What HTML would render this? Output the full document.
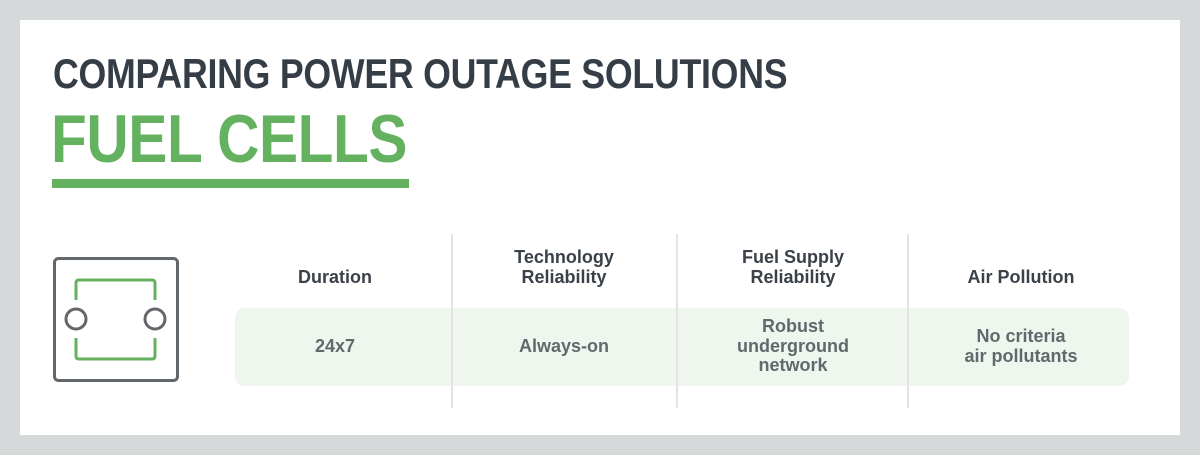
<!DOCTYPE html>
<html><head><style>
body{margin:0;width:1200px;height:455px;background:#d5d9da;position:relative;overflow:hidden;font-family:"Liberation Sans",sans-serif}
.panel{position:absolute;left:20px;top:20px;width:1160px;height:415px;background:#fff}
.a{position:absolute}
.t1{left:53px;top:50px;font-size:42px;font-weight:bold;color:#353e47;letter-spacing:-0.3px;white-space:nowrap;transform:scaleX(0.85);transform-origin:left}
.t2{left:51px;top:100px;font-size:68px;font-weight:bold;color:#64b25f;white-space:nowrap;letter-spacing:-0.5px;transform:scaleX(0.862);transform-origin:left}
.ul{left:52px;top:179px;width:357px;height:9px;background:#64b25f}
.band{left:235px;top:308px;width:894px;height:78px;background:#eff6ee;border-radius:10px}
.div{top:234px;width:2px;height:174px;background:#e2e4e4}
.h,.v{text-align:center;font-weight:bold;font-size:18px;line-height:19.5px;width:220px;margin-left:-110px}
.h{color:#3a4148}
.v{color:#63686d}
</style></head><body>
<div class="panel"></div>
<div class="a t1">COMPARING POWER OUTAGE SOLUTIONS</div>
<div class="a t2">FUEL CELLS</div>
<div class="a ul"></div>
<svg class="a" style="left:0;top:0" width="1200" height="455">
<rect x="54.5" y="258.5" width="123" height="122" rx="4" fill="none" stroke="#62676c" stroke-width="3"/>
<path d="M76 300 V283 Q76 280 79 280 H152 Q155 280 155 283 V300" fill="none" stroke="#64b25f" stroke-width="3"/>
<path d="M76 338 V356 Q76 359 79 359 H152 Q155 359 155 356 V338" fill="none" stroke="#64b25f" stroke-width="3"/>
<circle cx="76" cy="319" r="10" fill="#fff" stroke="#62676c" stroke-width="3"/>
<circle cx="155" cy="319" r="10" fill="#fff" stroke="#62676c" stroke-width="3"/>
</svg>
<div class="a band"></div>
<div class="a div" style="left:451px"></div>
<div class="a div" style="left:676px"></div>
<div class="a div" style="left:907px"></div>
<div class="a h" style="left:335px;top:268px">Duration</div>
<div class="a h" style="left:564px;top:248px">Technology<br>Reliability</div>
<div class="a h" style="left:793px;top:248px">Fuel Supply<br>Reliability</div>
<div class="a h" style="left:1021px;top:268px">Air Pollution</div>
<div class="a v" style="left:335px;top:337px">24x7</div>
<div class="a v" style="left:564px;top:337px">Always-on</div>
<div class="a v" style="left:793px;top:317px">Robust<br>underground<br>network</div>
<div class="a v" style="left:1021px;top:327px">No criteria<br>air pollutants</div>
</body></html>
